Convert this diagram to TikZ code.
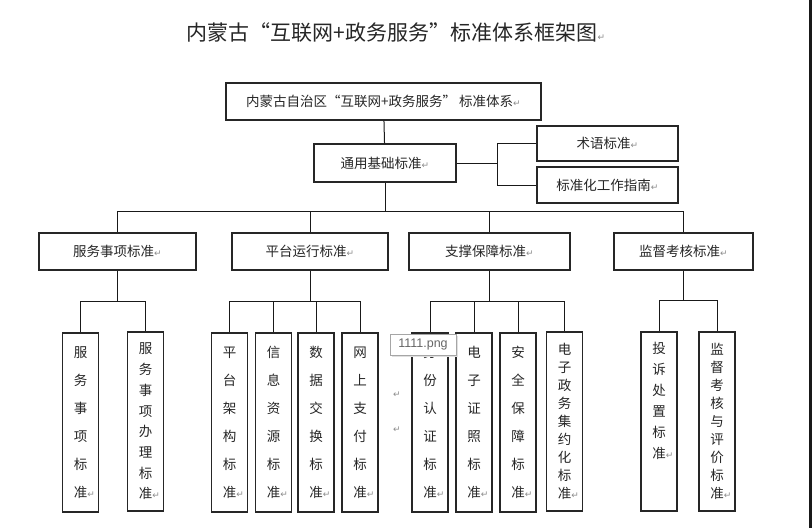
\documentclass[tikz,border=0pt]{standalone}
\usepackage{fontspec}
\setmainfont{Noto Sans CJK SC}
\newfontfamily\symfont{DejaVu Sans}
\newfontfamily\tipfont{Liberation Sans}
\usetikzlibrary{positioning}
\newcommand\pmark{\textcolor{black!45}{\symfont\fontsize{9}{9}\selectfont ↵}}
\tikzset{
  box/.style={draw=black!85, line width=1.1pt, inner sep=0pt, text=black!85, font=\fontsize{13.5}{16}\selectfont},
  leaf/.style={box, minimum width=36, minimum height=179, align=center, font=\fontsize{13.5}{#1}\selectfont},
  link/.style={draw=black!90, line width=1pt},
}

\begin{document}
\begin{tikzpicture}[x=1pt, y=-1pt]
    \useasboundingbox (0,0) rectangle (812,528);
    \fill[white] (0,0) rectangle (812,528);
    \fill[black!90] (809,0) rectangle (812,528);
    \node[font=\fontsize{21}{24}\selectfont, text=black!85] (title) at (396,33) {内蒙古“互联网+政务服务”标准体系框架图\pmark};
    % top part
    \node[box, minimum width=315, minimum height=37] (root) at (383.5,101.5) {内蒙古自治区“互联网+政务服务” 标准体系\pmark};
    \node[box, minimum width=142, minimum height=38] (general) at (385,163) {通用基础标准\pmark};
    \node[box, minimum width=141, minimum height=35] (term) at (607.5,143.5) {术语标准\pmark};
    \node[box, minimum width=141, minimum height=36] (guide) at (607.5,185) {标准化工作指南\pmark};
    % second level
    \node[box, minimum width=157, minimum height=37] (serv) at (117.5,251.5) {服务事项标准\pmark};
    \node[box, minimum width=156, minimum height=37] (plat) at (310,251.5) {平台运行标准\pmark};
    \node[box, minimum width=161, minimum height=37] (supp) at (489.5,251.5) {支撑保障标准\pmark};
    \node[box, minimum width=139, minimum height=37] (supv) at (683.5,251.5) {监督考核标准\pmark};
    % leaves
    \node[leaf=28] (s1) at (80.5,422.5) {服\\务\\事\\项\\标\\准\rlap{\pmark}};
    \node[leaf=20.7] (s2) at (145.5,421.5) {服\\务\\事\\项\\办\\理\\标\\准\rlap{\pmark}};
    \node[leaf=28] (p1) at (229.5,422.5) {平\\台\\架\\构\\标\\准\rlap{\pmark}};
    \node[leaf=28] (p2) at (273.5,422.5) {信\\息\\资\\源\\标\\准\rlap{\pmark}};
    \node[leaf=28] (p3) at (316,422.5) {数\\据\\交\\换\\标\\准\rlap{\pmark}};
    \node[leaf=28] (p4) at (360,422.5) {网\\上\\支\\付\\标\\准\rlap{\pmark}};
    \node[leaf=28] (d1) at (430,422.5) {身\\份\\认\\证\\标\\准\rlap{\pmark}};
    \node[leaf=28] (d2) at (474,422.5) {电\\子\\证\\照\\标\\准\rlap{\pmark}};
    \node[leaf=28] (d3) at (518,422.5) {安\\全\\保\\障\\标\\准\rlap{\pmark}};
    \node[leaf=18] (d4) at (564.5,421.5) {电\\子\\政\\务\\集\\约\\化\\标\\准\rlap{\pmark}};
    \node[leaf=21] (v1) at (659,421.5) {投\\诉\\处\\置\\标\\准\rlap{\pmark}\\ \\ };
    \node[leaf=18] (v2) at (717,421.5) {监\\督\\考\\核\\与\\评\\价\\标\\准\rlap{\pmark}};
    \node (m1) at (397,395) {\pmark};
    \node (m2) at (397,430) {\pmark};
    % connectors
    \draw[link] (root) -- (general);
    \draw[link] (general.east) -- ++(41,0) coordinate (fork);
    \draw[link] (term.west) -| (fork) |- (guide.west);
    \draw[link] (serv.north) -- ++(0,-21) coordinate (busL) -| (supv.north);
    \draw[link] (general.south) -- (general.south |- busL);
    \draw[link] (plat.north) -- (plat.north |- busL);
    \draw[link] (supp.north) -- (supp.north |- busL);
    \draw[link] (s1.north) -- ++(0,-31) coordinate (sb1) -| (s2.north);
    \draw[link] (serv.south) -- (serv.south |- sb1);
    \draw[link] (p1.north) -- ++(0,-31) coordinate (sb2) -| (p4.north);
    \draw[link] (p2.north) -- (p2.north |- sb2);
    \draw[link] (p3.north) -- (p3.north |- sb2);
    \draw[link] (plat.south) -- (plat.south |- sb2);
    \draw[link] (d1.north) -- ++(0,-31) coordinate (sb3) -| (d4.north);
    \draw[link] (d2.north) -- (d2.north |- sb3);
    \draw[link] (d3.north) -- (d3.north |- sb3);
    \draw[link] (supp.south) -- (supp.south |- sb3);
    \draw[link] (v1.north) -- ++(0,-31) coordinate (sb4) -| (v2.north);
    \draw[link] (supv.south) -- (supv.south |- sb4);
    % file tooltip
    \fill[black!12] (392,336) rectangle (458,357);
    \node[draw=black!35, fill=white, minimum width=66, minimum height=21, inner sep=0pt, font=\tipfont\fontsize{12.5}{14}\selectfont, text=black!60] (tip) at (423,344.5) {1111.png};
\end{tikzpicture}
\end{document}
